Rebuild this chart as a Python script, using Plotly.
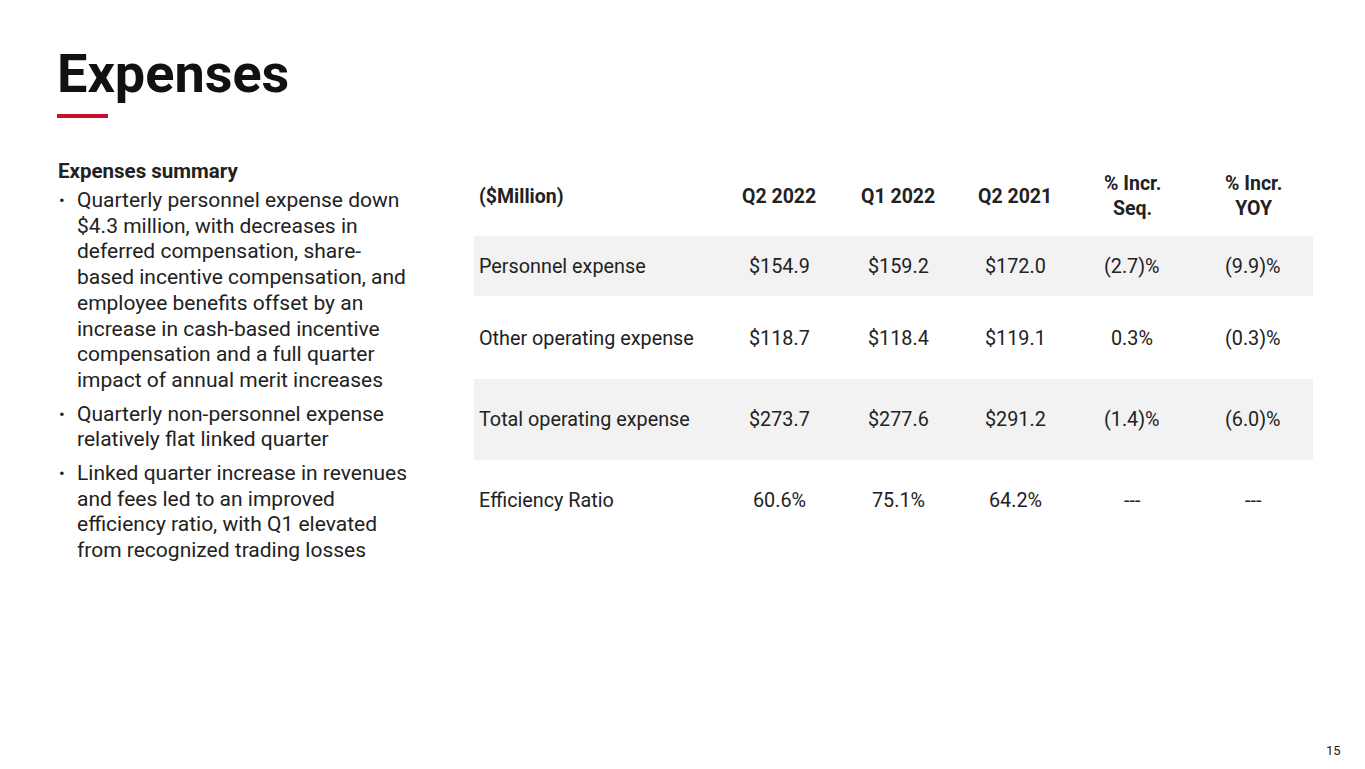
import plotly.graph_objects as go

# table data
columns = ["($Million)", "Q2 2022", "Q1 2022", "Q2 2021", "% Incr.<br>Seq.", "% Incr.<br>YOY"]
row_labels = ["Personnel expense", "Other operating expense", "Total operating expense", "Efficiency Ratio"]
q2_2022 = ["$154.9", "$118.7", "$273.7", "60.6%"]
q1_2022 = ["$159.2", "$118.4", "$277.6", "75.1%"]
q2_2021 = ["$172.0", "$119.1", "$291.2", "64.2%"]
incr_seq = ["(2.7)%", "0.3%", "(1.4)%", "---"]
incr_yoy = ["(9.9)%", "(0.3)%", "(6.0)%", "---"]

bullets = [
    ["Quarterly personnel expense down", "$4.3 million, with decreases in", "deferred compensation, share-",
     "based incentive compensation, and", "employee benefits offset by an", "increase in cash-based incentive",
     "compensation and a full quarter", "impact of annual merit increases"],
    ["Quarterly non-personnel expense", "relatively flat linked quarter"],
    ["Linked quarter increase in revenues", "and fees led to an improved", "efficiency ratio, with Q1 elevated",
     "from recognized trading losses"],
]

W, H = 1365, 769
OX, OY = -8, -8  # page body margin offset
FONT = "Roboto"
TXT = "#222222"

fig = go.Figure()
fig.update_layout(
    width=W, height=H, margin=dict(l=0, r=0, t=0, b=0),
    paper_bgcolor="white", plot_bgcolor="white", showlegend=False,
    xaxis=dict(range=[0, W], visible=False, fixedrange=True),
    yaxis=dict(range=[H, 0], visible=False, fixedrange=True),
    font=dict(family=FONT, color=TXT),
)

ann = []
shapes = []
# title
ann.append(dict(x=55 + OX, y=73 + OY, text="<b>Expenses</b>", xanchor="left", yanchor="middle",
                font=dict(size=54, color="#111111")))
shapes.append(dict(type="line", x0=57 + OX, x1=108 + OX, y0=116 + OY, y1=116 + OY,
                   line=dict(color="#c8102e", width=4)))

# left summary
ann.append(dict(x=56 + OX, y=171 + OY, text="<b>Expenses summary</b>", xanchor="left", yanchor="middle",
                font=dict(size=20.5)))
y = 200
for b in bullets:
    ann.append(dict(x=57 + OX, y=y + OY, text="•", xanchor="left", yanchor="middle", font=dict(size=17)))
    for line in b:
        ann.append(dict(x=75 + OX, y=y + OY, text=line, xanchor="left", yanchor="middle", font=dict(size=21)))
        y += 25.7
    y += 8

# table
col_x = [477, 779, 898, 1015, 1132, 1253]
row_y = [266, 338, 419, 500]
bands = [(236, 296), (379, 460)]
for y0, y1 in bands:
    shapes.append(dict(type="rect", x0=474 + OX, x1=1313 + OX, y0=y0 + OY, y1=y1 + OY, fillcolor="#f2f2f2",
                       line=dict(width=0), layer="below"))
for i, c in enumerate(columns):
    ann.append(dict(x=col_x[i] + OX, y=196 + OY, text=f"<b>{c}</b>", xanchor="left" if i == 0 else "center",
                    yanchor="middle", font=dict(size=19.5)))
for r, lab in enumerate(row_labels):
    vals = [lab, q2_2022[r], q1_2022[r], q2_2021[r], incr_seq[r], incr_yoy[r]]
    for i, v in enumerate(vals):
        ann.append(dict(x=col_x[i] + OX, y=row_y[r] + OY, text=v, xanchor="left" if i == 0 else "center",
                        yanchor="middle", font=dict(size=19.8)))

ann.append(dict(x=1343 + OX, y=750 + OY, text="15", xanchor="right", yanchor="middle", font=dict(size=13)))

for a in ann:
    a.update(xref="x", yref="y", showarrow=False)
fig.update_layout(annotations=ann, shapes=shapes)
fig.write_html("out.html")
